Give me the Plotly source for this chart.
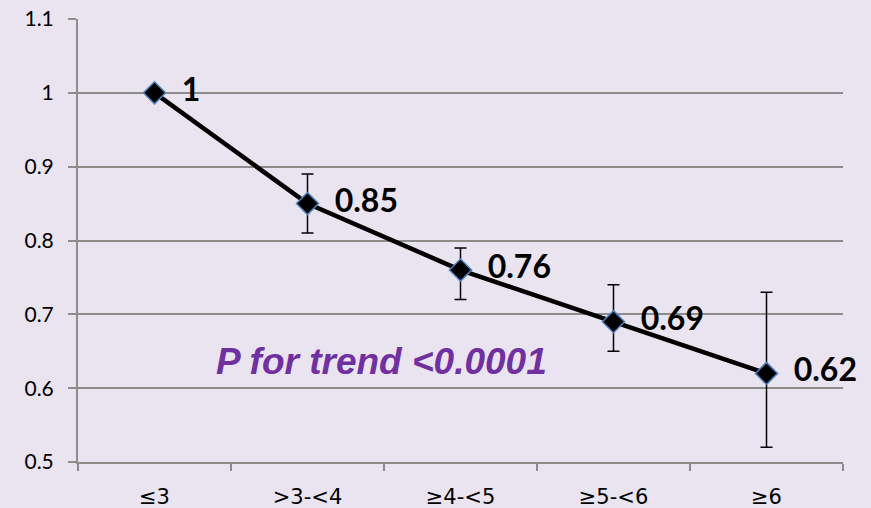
import plotly.graph_objects as go

categories = ["≤3", ">3-<4", "≥4-<5", "≥5-<6", "≥6"]
values = [1.0, 0.85, 0.76, 0.69, 0.62]
upper = [1.0, 0.89, 0.79, 0.74, 0.73]
lower = [1.0, 0.81, 0.72, 0.65, 0.52]
labels = ["1", "0.85", "0.76", "0.69", "0.62"]

err_plus = [u - v for u, v in zip(upper, values)]
err_minus = [v - l for l, v in zip(lower, values)]

BG = "#E9E4F0"
GRID = "#8C8C8C"

fig = go.Figure()
fig.add_trace(go.Scatter(
    x=categories, y=values,
    mode="lines+markers+text",
    line=dict(color="black", width=4.5),
    marker=dict(symbol="diamond", size=17, color="black",
                line=dict(color="#4F81BD", width=1.5)),
    error_y=dict(type="data", symmetric=False, array=err_plus, arrayminus=err_minus,
                 color="black", thickness=1.5, width=6),
    text=["  " + t for t in labels],
    textposition="middle right",
    textfont=dict(family="Lato, Liberation Sans, sans-serif", size=32, color="black", weight="bold"),
    cliponaxis=False,
    showlegend=False,
    hoverinfo="skip",
))

fig.add_annotation(
    x=0.397, xref="paper", y=0.636, yref="y",
    text="<b><i>P for trend &lt;0.0001</i></b>",
    showarrow=False,
    font=dict(family="Liberation Sans, Arial, sans-serif", size=37, color="#7030A0"),
)

fig.update_layout(
    width=871, height=508,
    margin=dict(l=78, r=28, t=19, b=46, autoexpand=False),
    paper_bgcolor=BG, plot_bgcolor=BG,
    font=dict(family="Lato, Liberation Sans, sans-serif", size=21, color="black"),
)
fig.update_xaxes(
    type="category", range=[-0.5, 4.5], automargin=False,
    showline=True, linecolor=GRID, linewidth=2,
    ticks="outside", tickson="boundaries", ticklen=7, tickcolor=GRID, tickwidth=2,
    showgrid=False, zeroline=False, ticklabelstandoff=15,
    tickfont=dict(family="DejaVu Sans, sans-serif", size=21),
)
fig.update_yaxes(
    range=[0.5, 1.1], dtick=0.1, tick0=0.5, automargin=False,
    showline=True, linecolor=GRID, linewidth=2,
    ticks="outside", ticklen=8, tickcolor=GRID, tickwidth=2,
    showgrid=True, gridcolor=GRID, gridwidth=1.5, zeroline=False,
    ticklabelstandoff=10,
)

fig.write_html("out.html", config={"displayModeBar": False},
               post_script="document.body.style.margin='0';document.body.style.overflow='hidden';")
